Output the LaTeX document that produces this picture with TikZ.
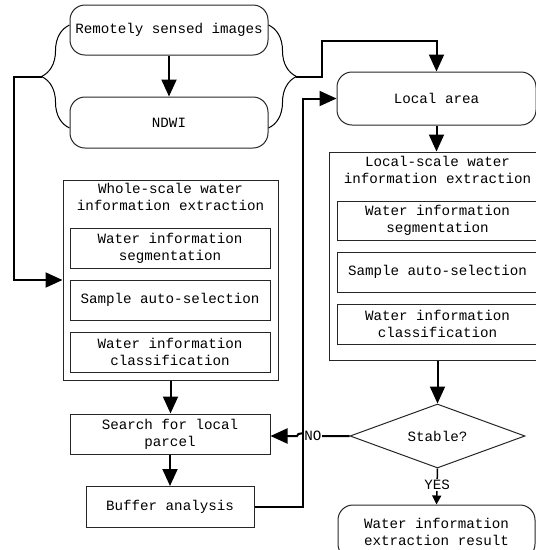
\documentclass[tikz,border=0pt]{standalone}
\usepackage{fontspec}
\setmainfont{Liberation Mono}
\usetikzlibrary{positioning,calc,shapes.geometric,arrows.meta,decorations.pathreplacing}

\begin{document}
\begin{tikzpicture}[
    x=1pt, y=-1pt,
    font=\fontsize{14.2}{17}\selectfont,
    rbox/.style={draw=black!85, line width=1pt, rounded corners=15pt, align=center},
    block/.style={draw=black!85, line width=1pt, align=center, inner sep=2pt},
    frame/.style={draw=black!85, line width=1pt},
    title/.style={align=center, inner sep=2pt},
    flow/.style={draw, line width=2pt, -{Triangle[length=17pt, width=15pt]}},
    curly/.style={draw, line width=1pt, decorate, decoration={brace, amplitude=28pt}}
]
\useasboundingbox (0,0) rectangle (536,550);

% Input images
\node[rbox, minimum width=198pt, minimum height=50pt] (remote) at (169,30) {Remotely sensed images};
\node[rbox, minimum width=198pt, minimum height=51pt] (ndwi) at (169,122.5) {NDWI};
\node[rbox, minimum width=199pt, minimum height=53pt] (local) at (436.5,98.5) {Local area};

% Whole-scale extraction
\node[frame, minimum width=215pt, minimum height=200pt] (whole) at (170.5,280) {};
\node[title, below=2pt of whole.north] (wholetitle) {Whole-scale water\\information extraction};
\node[block, minimum width=200pt, minimum height=40pt] (wseg) at (170,248) {Water information\\segmentation};
\node[block, minimum width=200pt, minimum height=40pt] (wsel) at (170,300) {Sample auto-selection};
\node[block, minimum width=200pt, minimum height=40pt] (wcls) at (170,352) {Water information\\classification};

% Local-scale extraction
\node[frame, minimum width=217pt, minimum height=208pt] (localx) at (437.5,256) {};
\node[title, below=3pt of localx.north] (localtitle) {Local-scale water\\information extraction};
\node[block, minimum width=201pt, minimum height=39pt] (lseg) at (437.5,220.5) {Water information\\segmentation};
\node[block, minimum width=201pt, minimum height=40pt] (lsel) at (437.5,272) {Sample auto-selection};
\node[block, minimum width=201pt, minimum height=40pt] (lcls) at (437.5,324) {Water information\\classification};

% Decision and loop
\node[diamond, draw=black!85, line width=1pt, aspect=2.73, minimum width=175pt, minimum height=64pt, inner sep=0pt] (stable) at (437.5,436) {Stable?};
\node[block, minimum width=200pt, minimum height=40pt] (search) at (170,434) {Search for local\\parcel};
\node[block, minimum width=168pt, minimum height=41pt] (buffer) at (170,507) {Buffer analysis};
\node[rbox, minimum width=197pt, minimum height=54pt] (result) at (436.5,532) {Water information\\extraction result};

% Braces round the inputs
\draw[curly] ($(ndwi.west)+(0,5.5)$) -- ($(remote.west)+(0,-5)$);
\draw[curly] ($(remote.east)+(0,-5)$) -- ($(ndwi.east)+(0,5.5)$);
\coordinate (lbtip) at (42,77);
\coordinate (rbtip) at (296,77);

% Draw connectors
\draw[flow] (remote) -- (ndwi);
\draw[flow] (lbtip) -- (14,77) |- (whole.west);
\draw[flow] (rbtip) -- (322,77) -- (322,41) -| (local.north);
\draw[flow] (local.south) -- (local.south |- localx.north);
\draw[flow] (whole.south) -- (whole.south |- search.north);
\draw[flow] (search) -- (buffer);
\draw[flow] (buffer.east) -- (303,507) |- (local.west);
\draw[flow] (localx.south) -- (stable.north);
\draw[line width=1.5pt, -{Triangle[length=9pt, width=9pt]}] (stable.south) -- node[pos=0.46, fill=white, inner sep=1pt] {YES} (result.north);
\coordinate (hop) at (301,436);
\draw[flow] (stable.west) -- node[pos=0.84, fill=white, inner sep=0.5pt] {NO} ($(hop)+(5,0)$) to[out=90, in=90] ($(hop)+(-4,0)$) -- (stable.west -| search.east);

\end{tikzpicture}
\end{document}
